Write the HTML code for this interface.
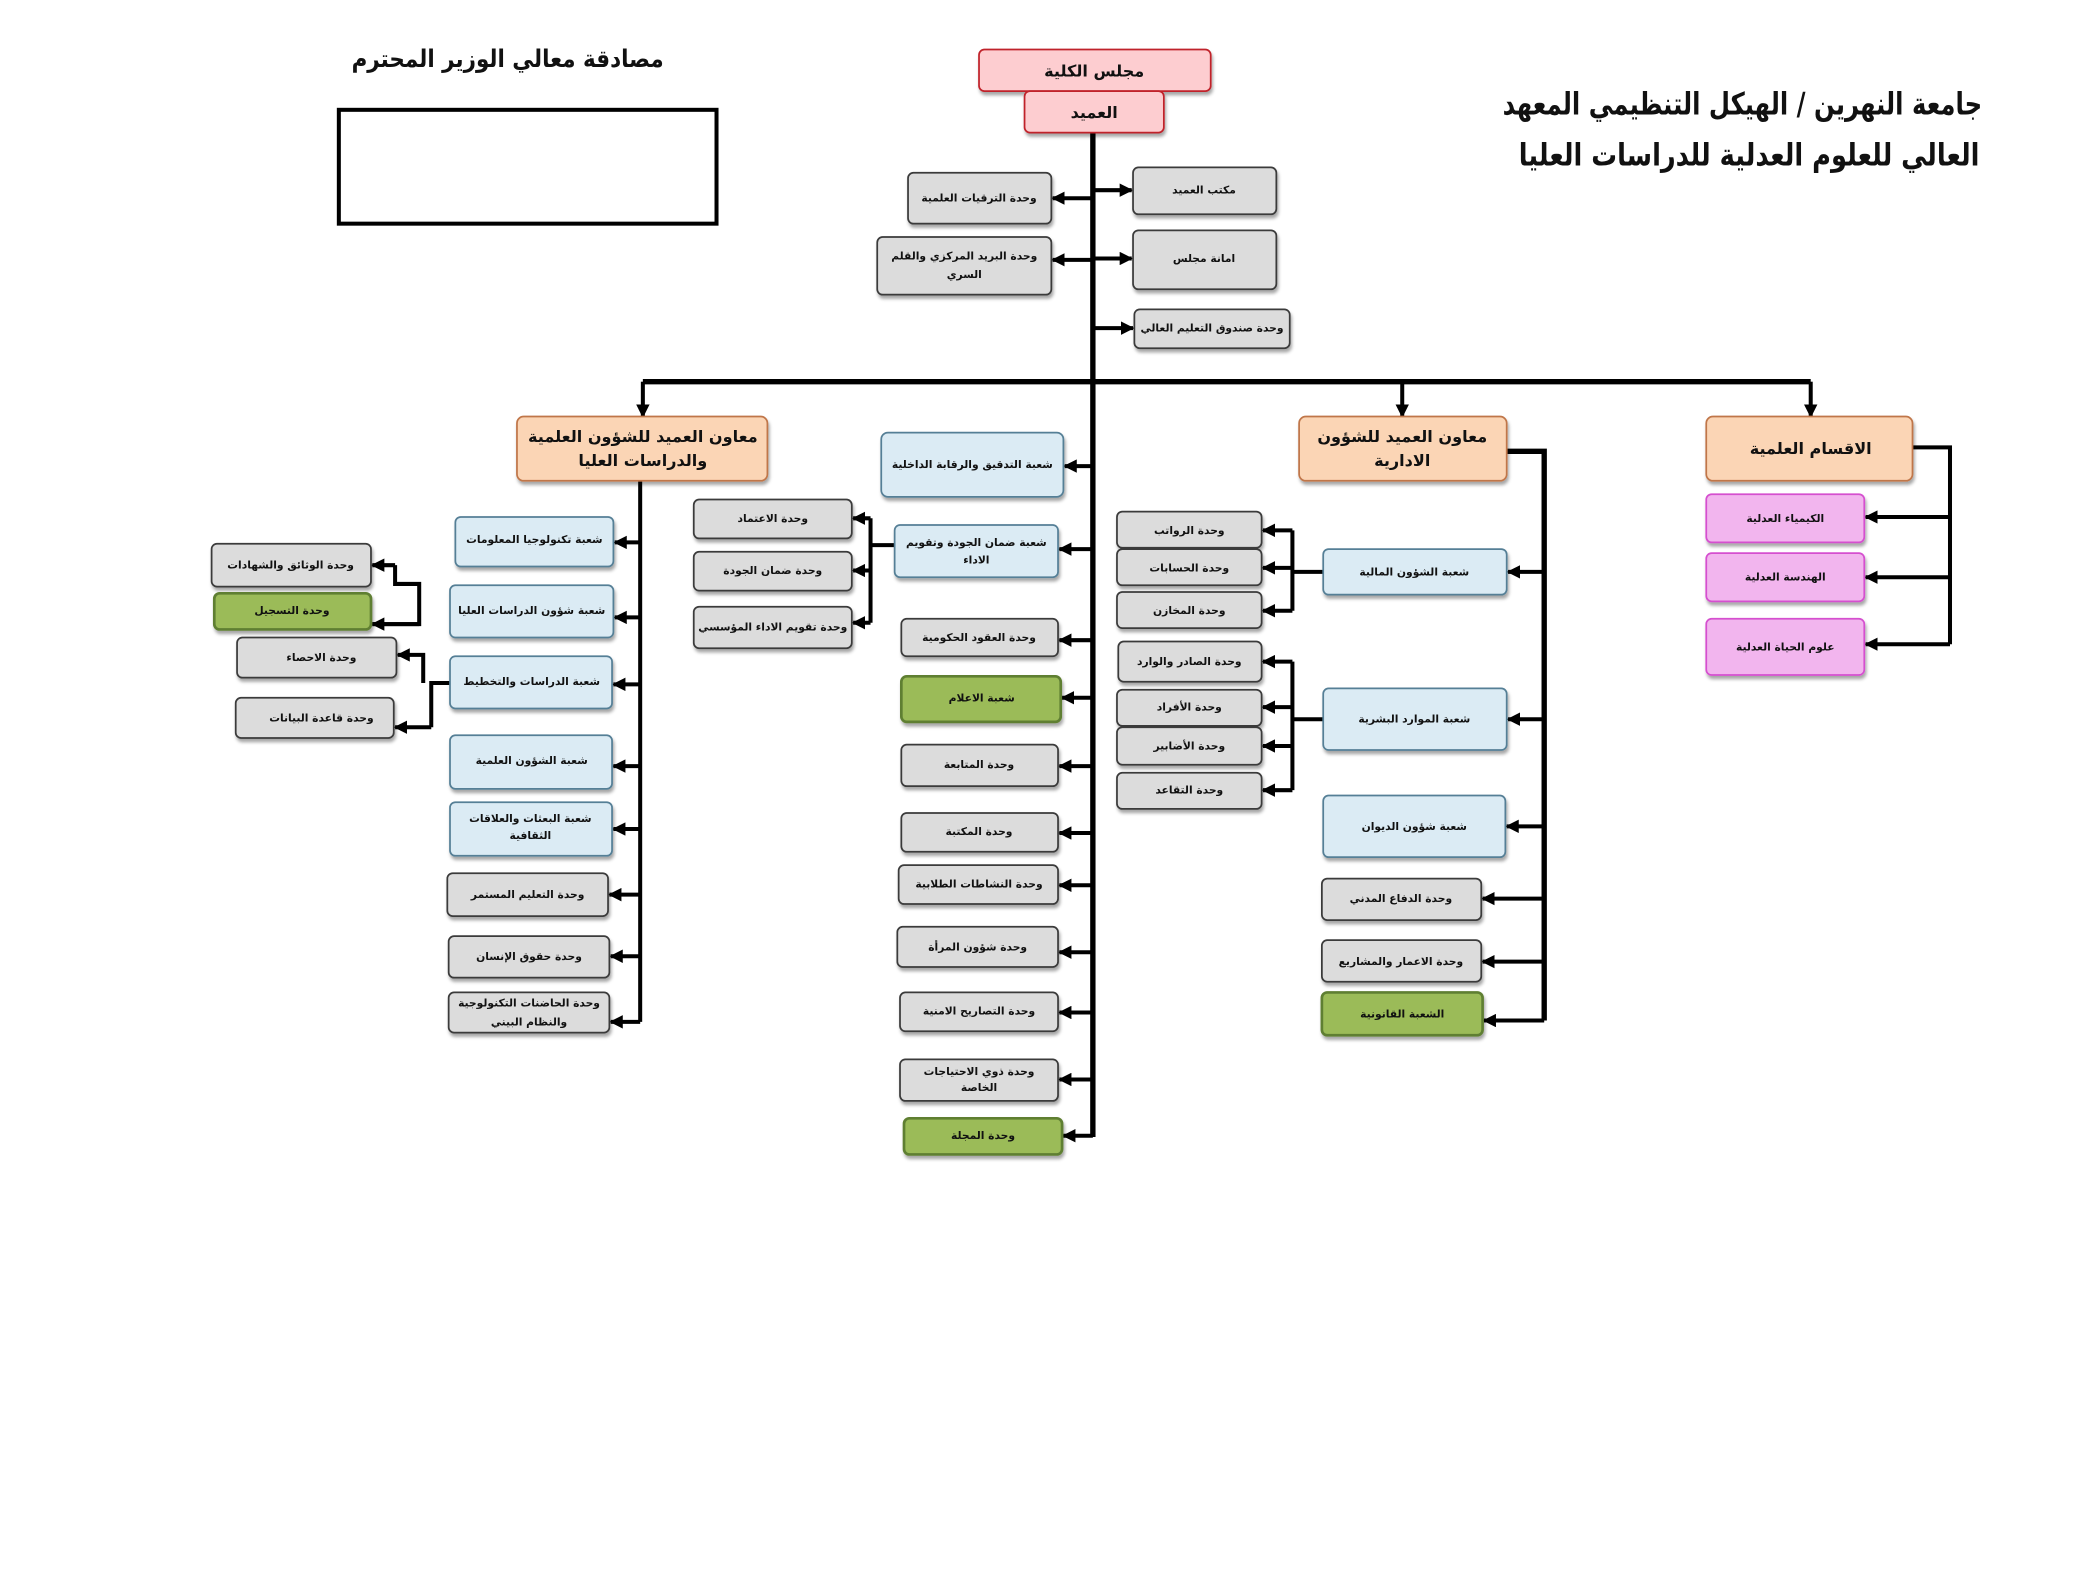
<!DOCTYPE html>
<html><head><meta charset="utf-8">
<style>
html,body{margin:0;padding:0;background:#fff;width:2100px;height:1575px;overflow:hidden}
svg{display:block}
text{font-family:"DejaVu Sans","Liberation Sans",sans-serif;font-weight:bold;text-anchor:middle;dominant-baseline:central;fill:#111}
.g{fill:#dcdcdc;stroke:#3a3a3a;stroke-width:1.3}
.b{fill:#dbebf4;stroke:#557f96;stroke-width:1.3}
.gr{fill:#9bbb59;stroke:#5f7f32;stroke-width:2}
.o{fill:#fbd5b5;stroke:#c0764a;stroke-width:1.3}
.p{fill:#f2b5ee;stroke:#d54fcf;stroke-width:1.3}
.r{fill:#fdcdd0;stroke:#c0242c;stroke-width:1.3}
.l{fill:none;stroke:#000;stroke-width:3}
.a{fill:none;stroke:#000;stroke-width:3;marker-end:url(#ah)}
.s{font-size:8px}
.m{font-size:12px}
</style></head><body>
<svg width="2100" height="1575" viewBox="0 0 1568 1176" preserveAspectRatio="none" xmlns="http://www.w3.org/2000/svg">
<defs>
<marker id="ah" markerUnits="userSpaceOnUse" markerWidth="10" markerHeight="10" refX="9" refY="5" orient="auto"><path d="M0,0 L10,5 L0,10 z" fill="#000"/></marker>
<filter id="sh" x="-10%" y="-10%" width="130%" height="140%"><feDropShadow dx="1" dy="2.5" stdDeviation="1.2" flood-color="#000" flood-opacity="0.35"/></filter>
</defs>

<!-- header -->
<text x="379" y="44" style="font-size:18px" textLength="233" lengthAdjust="spacingAndGlyphs">مصادقة معالي الوزير المحترم</text>
<rect x="253" y="82" width="282" height="85" fill="none" stroke="#000" stroke-width="3"/>
<text x="1301" y="78" style="font-size:23px" textLength="358" lengthAdjust="spacingAndGlyphs">جامعة النهرين / الهيكل التنظيمي المعهد</text>
<text x="1306" y="116" style="font-size:23px" textLength="344" lengthAdjust="spacingAndGlyphs">العالي للعلوم العدلية للدراسات العليا</text>

<!-- main lines -->
<path class="l" d="M816,99 V849" style="stroke-width:4"/>
<path class="l" d="M480,285 H1352" style="stroke-width:4"/>
<path class="a" d="M480,285 V311"/><path class="a" d="M1047,285 V311"/><path class="a" d="M1352,285 V311"/>
<path class="a" d="M816,142 H845"/><path class="a" d="M816,193 H845"/><path class="a" d="M816,245 H846"/>
<path class="a" d="M816,148 H786"/><path class="a" d="M816,194 H786"/>

<!-- center branch arrows -->
<path class="a" d="M816,348 H795"/><path class="a" d="M816,410 H791"/><path class="a" d="M816,478 H791"/>
<path class="a" d="M816,521 H793"/><path class="a" d="M816,572 H791"/><path class="a" d="M816,622 H791"/>
<path class="a" d="M816,661 H791"/><path class="a" d="M816,711 H791"/><path class="a" d="M816,756 H791"/>
<path class="a" d="M816,806 H791"/><path class="a" d="M816,848 H794"/>
<!-- quality sub -->
<path class="l" d="M668,407 H650 M650,387 V465"/>
<path class="a" d="M650,387 H637"/><path class="a" d="M650,426 H637"/><path class="a" d="M650,465 H637"/>

<!-- left branch -->
<path class="l" d="M478,359 V763"/>
<path class="a" d="M478,405 H459"/><path class="a" d="M478,461 H459"/><path class="a" d="M478,511 H458"/>
<path class="a" d="M478,572 H458"/><path class="a" d="M478,619 H458"/><path class="a" d="M478,668 H455"/>
<path class="a" d="M478,714 H456"/><path class="a" d="M478,763 H456"/>
<path class="l" d="M336,510 H322 V543"/>
<path class="a" d="M322,543 H295"/>
<path class="a" d="M316,510 V489 H297"/>
<path class="a" d="M295,422 V436 H313 V466 H278" style="marker-end:none"/>
<path class="a" d="M295,422 H278"/><path class="a" d="M313,466 H278"/>

<!-- admin branch -->
<path class="l" d="M1125,337 H1153 V762" style="stroke-width:4"/>
<path class="a" d="M1153,427 H1126"/><path class="a" d="M1153,537 H1126"/><path class="a" d="M1153,617 H1125"/>
<path class="a" d="M1153,671 H1107"/><path class="a" d="M1153,718 H1107"/><path class="a" d="M1153,762 H1108"/>
<path class="l" d="M988,427 H965 M965,396 V456" />
<path class="a" d="M965,396 H943"/><path class="a" d="M965,424 H943"/><path class="a" d="M965,456 H943"/>
<path class="l" d="M988,537 H965 M965,494 V590"/>
<path class="a" d="M965,494 H943"/><path class="a" d="M965,528 H943"/><path class="a" d="M965,557 H943"/><path class="a" d="M965,590 H943"/>

<!-- departments -->
<path class="l" d="M1428,334 H1456 V481"/>
<path class="a" d="M1456,386 H1393"/><path class="a" d="M1456,431 H1393"/><path class="a" d="M1456,481 H1393"/>

<g filter="url(#sh)">
<rect class="r" x="731" y="37" width="173" height="31" rx="4"/>
<rect class="r" x="765" y="68" width="104" height="31" rx="4"/>
<rect class="g" x="846" y="125" width="107" height="35" rx="4"/>
<rect class="g" x="846" y="172" width="107" height="44" rx="4"/>
<rect class="g" x="847" y="231" width="116" height="29" rx="4"/>
<rect class="g" x="678" y="129" width="107" height="38" rx="4"/>
<rect class="g" x="655" y="177" width="130" height="43" rx="4"/>
<rect class="o" x="386" y="311" width="187" height="48" rx="5"/>
<rect class="o" x="970" y="311" width="155" height="48" rx="5"/>
<rect class="o" x="1274" y="311" width="154" height="48" rx="5"/>
<rect class="p" x="1274" y="369" width="118" height="36" rx="4"/>
<rect class="p" x="1274" y="413" width="118" height="36" rx="4"/>
<rect class="p" x="1274" y="462" width="118" height="42" rx="4"/>
<rect class="b" x="988" y="410" width="137" height="34" rx="4"/>
<rect class="b" x="988" y="514" width="137" height="46" rx="4"/>
<rect class="b" x="988" y="594" width="136" height="46" rx="4"/>
<rect class="g" x="987" y="656" width="119" height="31" rx="4"/>
<rect class="g" x="987" y="702" width="119" height="31" rx="4"/>
<rect class="gr" x="987" y="741" width="120" height="32" rx="4"/>
<rect class="g" x="834" y="382" width="108" height="27" rx="4"/>
<rect class="g" x="834" y="410" width="108" height="27" rx="4"/>
<rect class="g" x="834" y="442" width="108" height="27" rx="4"/>
<rect class="g" x="835" y="479" width="107" height="30" rx="4"/>
<rect class="g" x="834" y="515" width="108" height="27" rx="4"/>
<rect class="g" x="834" y="543" width="108" height="28" rx="4"/>
<rect class="g" x="834" y="577" width="108" height="27" rx="4"/>
<rect class="b" x="658" y="323" width="136" height="48" rx="5"/>
<rect class="b" x="668" y="392" width="122" height="39" rx="4"/>
<rect class="g" x="673" y="462" width="117" height="28" rx="4"/>
<rect class="gr" x="673" y="505" width="119" height="34" rx="4"/>
<rect class="g" x="673" y="556" width="117" height="31" rx="4"/>
<rect class="g" x="673" y="607" width="117" height="29" rx="4"/>
<rect class="g" x="671" y="646" width="119" height="29" rx="4"/>
<rect class="g" x="670" y="692" width="120" height="30" rx="4"/>
<rect class="g" x="672" y="741" width="118" height="29" rx="4"/>
<rect class="g" x="672" y="791" width="118" height="31" rx="4"/>
<rect class="gr" x="675" y="835" width="118" height="27" rx="4"/>
<rect class="g" x="518" y="373" width="118" height="29" rx="4"/>
<rect class="g" x="518" y="412" width="118" height="29" rx="4"/>
<rect class="g" x="518" y="453" width="118" height="31" rx="4"/>
<rect class="b" x="340" y="386" width="118" height="37" rx="4"/>
<rect class="b" x="336" y="437" width="122" height="39" rx="4"/>
<rect class="b" x="336" y="490" width="121" height="39" rx="4"/>
<rect class="b" x="336" y="549" width="121" height="40" rx="4"/>
<rect class="b" x="336" y="599" width="121" height="40" rx="4"/>
<rect class="g" x="334" y="652" width="120" height="32" rx="4"/>
<rect class="g" x="335" y="699" width="120" height="31" rx="4"/>
<rect class="g" x="335" y="741" width="120" height="30" rx="4"/>
<rect class="g" x="158" y="406" width="119" height="32" rx="4"/>
<rect class="gr" x="160" y="443" width="117" height="27" rx="4"/>
<rect class="g" x="177" y="476" width="119" height="30" rx="4"/>
<rect class="g" x="176" y="521" width="118" height="30" rx="4"/>
</g>

<text class="m" x="817" y="53">مجلس الكلية</text>
<text class="m" x="817" y="84">العميد</text>
<text class="s" x="899" y="142">مكتب العميد</text>
<text class="s" x="899" y="193">امانة مجلس</text>
<text class="s" x="905" y="245">وحدة صندوق التعليم العالي</text>
<text class="s" x="731" y="148">وحدة الترقيات العلمية</text>
<text class="s" x="720" y="191">وحدة البريد المركزي والقلم</text>
<text class="s" x="720" y="205">السري</text>
<text class="m" x="480" y="326">معاون العميد للشؤون العلمية</text>
<text class="m" x="480" y="344">والدراسات العليا</text>
<text class="m" x="1047" y="326">معاون العميد للشؤون</text>
<text class="m" x="1047" y="344">الادارية</text>
<text class="m" x="1352" y="335">الاقسام العلمية</text>
<text class="s" x="1333" y="387">الكيمياء العدلية</text>
<text class="s" x="1333" y="431">الهندسة العدلية</text>
<text class="s" x="1333" y="483">علوم الحياة العدلية</text>
<text class="s" x="1056" y="427">شعبة الشؤون المالية</text>
<text class="s" x="1056" y="537">شعبة الموارد البشرية</text>
<text class="s" x="1056" y="617">شعبة شؤون الديوان</text>
<text class="s" x="1046" y="671">وحدة الدفاع المدني</text>
<text class="s" x="1046" y="718">وحدة الاعمار والمشاريع</text>
<text class="s" x="1047" y="757">الشعبة القانونية</text>
<text class="s" x="888" y="396">وحدة الرواتب</text>
<text class="s" x="888" y="424">وحدة الحسابات</text>
<text class="s" x="888" y="456">وحدة المخازن</text>
<text class="s" x="888" y="494">وحدة الصادر والوارد</text>
<text class="s" x="888" y="528">وحدة الأفراد</text>
<text class="s" x="888" y="557">وحدة الأضابير</text>
<text class="s" x="888" y="590">وحدة التقاعد</text>
<text class="s" x="726" y="347">شعبة التدقيق والرقابة الداخلية</text>
<text class="s" x="729" y="405">شعبة ضمان الجودة وتقويم</text>
<text class="s" x="729" y="418">الاداء</text>
<text class="s" x="731" y="476">وحدة العقود الحكومية</text>
<text class="s" x="733" y="521">شعبة الاعلام</text>
<text class="s" x="731" y="571">وحدة المتابعة</text>
<text class="s" x="731" y="621">وحدة المكتبة</text>
<text class="s" x="731" y="660">وحدة النشاطات الطلابية</text>
<text class="s" x="730" y="707">وحدة شؤون المرأة</text>
<text class="s" x="731" y="755">وحدة التصاريح الامنية</text>
<text class="s" x="731" y="800">وحدة ذوي الاحتياجات</text>
<text class="s" x="731" y="812">الخاصة</text>
<text class="s" x="734" y="848">وحدة المجلة</text>
<text class="s" x="577" y="387">وحدة الاعتماد</text>
<text class="s" x="577" y="426">وحدة ضمان الجودة</text>
<text class="s" x="577" y="468">وحدة تقويم الاداء المؤسسي</text>
<text class="s" x="399" y="403">شعبة تكنولوجيا المعلومات</text>
<text class="s" x="397" y="456">شعبة شؤون الدراسات العليا</text>
<text class="s" x="397" y="509">شعبة الدراسات والتخطيط</text>
<text class="s" x="397" y="568">شعبة الشؤون العلمية</text>
<text class="s" x="396" y="611">شعبة البعثات والعلاقات</text>
<text class="s" x="396" y="624">الثقافية</text>
<text class="s" x="394" y="668">وحدة التعليم المستمر</text>
<text class="s" x="395" y="714">وحدة حقوق الإنسان</text>
<text class="s" x="395" y="749">وحدة الحاضنات التكنولوجية</text>
<text class="s" x="395" y="763">والنظام البيني</text>
<text class="s" x="217" y="422">وحدة الوثائق والشهادات</text>
<text class="s" x="218" y="456">وحدة التسجيل</text>
<text class="s" x="240" y="491">وحدة الاحصاء</text>
<text class="s" x="240" y="536">وحدة قاعدة البيانات</text>
</svg>
</body></html>
